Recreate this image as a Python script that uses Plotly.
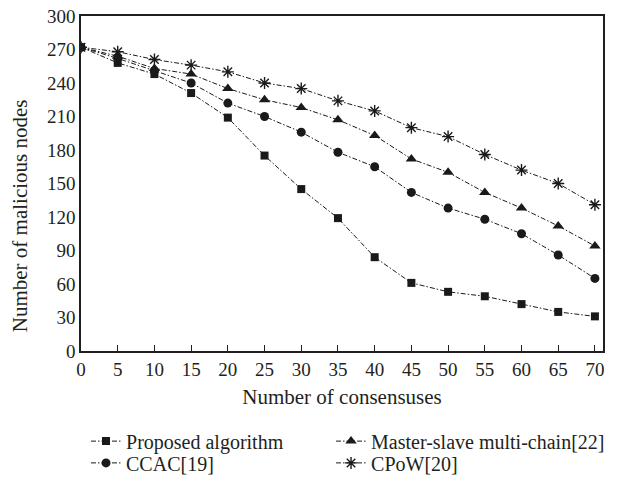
import plotly.graph_objects as go

x_vals = [0, 5, 10, 15, 20, 25, 30, 35, 40, 45, 50, 55, 60, 65, 70]
proposed = [272, 258, 248, 231, 209, 175, 145, 119, 84, 61, 53, 49, 42, 35, 31]
master_slave = [272, 264, 253, 248, 235, 225, 218, 207, 193, 172, 160, 142, 128, 112, 94]
ccac = [272, 262, 251, 240, 222, 210, 196, 178, 165, 142, 128, 118, 105, 86, 65]
cpow = [272, 268, 261, 256, 250, 240, 235, 224, 215, 200, 192, 176, 162, 150, 131]

names = ["Proposed algorithm", "Master-slave multi-chain[22]", "CCAC[19]", "CPoW[20]"]
series = [proposed, master_slave, ccac, cpow]
symbols = ["square", "triangle-up", "circle", "asterisk-open"]
sizes = [8, 10, 9, 10]
legends = ["legend", "legend2", "legend3", "legend4"]

FONT = "Liberation Serif"
fig = go.Figure()
for name, ys, sym, sz, lg in zip(names, series, symbols, sizes, legends):
    fig.add_trace(go.Scatter(
        x=x_vals, y=ys, name=name, mode="lines+markers", legend=lg,
        line=dict(color="#1a1a1a", width=1, dash="5px,2px,1.5px,2px"),
        marker=dict(symbol=sym, size=sz, color="#1a1a1a",
                    line=dict(color="#1a1a1a", width=1.4 if sym.startswith("asterisk") else 0)),
    ))

leg_common = dict(orientation="h", yanchor="middle", xanchor="left", tracegroupgap=0,
                  itemwidth=30, font=dict(family=FONT, size=20, color="#231f20"),
                  bgcolor="rgba(0,0,0,0)")
col1, col2 = 0.0096, 0.479
row1, row2 = -0.269, -0.334
fig.update_layout(
    width=619, height=483,
    margin=dict(l=81, r=16, t=16, b=132, autoexpand=False),
    paper_bgcolor="white", plot_bgcolor="white",
    font=dict(family=FONT, size=19, color="#231f20"),
    showlegend=True,
    legend=dict(x=col1, y=row1, **leg_common),
    legend2=dict(x=col2, y=row1, **leg_common),
    legend3=dict(x=col1, y=row2, **leg_common),
    legend4=dict(x=col2, y=row2, **leg_common),
)
fig.add_annotation(
    text="Number of malicious nodes", textangle=-90, showarrow=False,
    xref="paper", yref="paper", x=-0.117, y=0.405, xanchor="center", yanchor="middle",
    font=dict(family=FONT, size=21, color="#231f20"),
)
fig.update_xaxes(
    range=[0, 71.1], tickvals=x_vals, ticks="inside", ticklen=6, tickwidth=1.2,
    tickcolor="#231f20", showline=True, linecolor="#231f20", linewidth=1.5,
    mirror=True, showgrid=False, zeroline=False,
    title=dict(text="Number of consensuses", standoff=11,
               font=dict(family=FONT, size=21, color="#231f20")),
)
fig.update_yaxes(
    range=[0, 300], tickvals=list(range(0, 301, 30)), ticks="",
    showline=True, linecolor="#231f20", linewidth=1.5, mirror=True,
    showgrid=False, zeroline=False,
)

fig.write_html("out.html")
